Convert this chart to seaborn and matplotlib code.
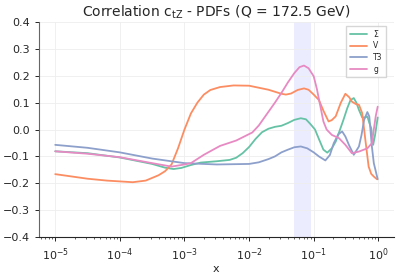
import numpy as np
import pandas as pd
import matplotlib
matplotlib.use('Agg')
import matplotlib.pyplot as plt
import seaborn as sns

# values (log10 x, correlation)
sigma_logx = [-5.0, -4.5, -4.0, -3.5, -3.3, -3.17, -3.05, -2.9, -2.75, -2.5, -2.3, -2.2,
              -2.1, -2.0, -1.9, -1.8, -1.7, -1.6, -1.5, -1.4, -1.3, -1.2, -1.12, -1.05,
              -0.98, -0.92, -0.85, -0.79, -0.72, -0.66, -0.6, -0.54, -0.48, -0.43, -0.38,
              -0.34, -0.3, -0.25, -0.2, -0.17, -0.14, -0.11, -0.08, -0.05, -0.01]
sigma_corr = [-0.081, -0.088, -0.104, -0.128, -0.142, -0.147, -0.143, -0.132, -0.123, -0.118,
              -0.113, -0.105, -0.088, -0.065, -0.035, -0.01, 0.003, 0.01, 0.014, 0.024,
              0.036, 0.042, 0.038, 0.02, 0.0, -0.035, -0.075, -0.086, -0.07, -0.045,
              -0.005, 0.036, 0.08, 0.11, 0.117, 0.1, 0.073, 0.045, 0.045, 0.049, 0.025,
              0.005, -0.057, -0.02, 0.045]

v_logx = [-5.0, -4.5, -4.2, -3.8, -3.6, -3.5, -3.4, -3.3, -3.2, -3.15, -3.1, -3.05, -3.0,
          -2.95, -2.9, -2.8, -2.7, -2.6, -2.45, -2.24, -2.0, -1.7, -1.5, -1.43, -1.35,
          -1.25, -1.15, -1.08, -1.0, -0.92, -0.85, -0.77, -0.72, -0.66, -0.58, -0.51,
          -0.45, -0.41, -0.35, -0.3, -0.25, -0.2, -0.15, -0.11, -0.07, -0.02]
v_corr = [-0.166, -0.183, -0.19, -0.196, -0.19, -0.18, -0.17, -0.155, -0.13, -0.10, -0.07,
          -0.035, 0.0, 0.03, 0.06, 0.1, 0.13, 0.147, 0.158, 0.164, 0.163, 0.148, 0.133,
          0.13, 0.134, 0.147, 0.153, 0.148, 0.13, 0.11, 0.07, 0.03, 0.035, 0.049, 0.1,
          0.133, 0.12, 0.104, 0.095, 0.092, 0.061, -0.04, -0.138, -0.165, -0.175, -0.185]

t3_logx = [-5.0, -4.5, -4.0, -3.5, -3.0, -2.5, -2.0, -1.85, -1.7, -1.6, -1.5, -1.4, -1.3,
           -1.2, -1.1, -1.0, -0.92, -0.82, -0.75, -0.69, -0.62, -0.56, -0.51, -0.45, -0.38,
           -0.3, -0.26, -0.22, -0.17, -0.14, -0.1, -0.07, -0.04, -0.01]
t3_corr = [-0.057, -0.068, -0.085, -0.108, -0.125, -0.13, -0.128, -0.122, -0.11, -0.1,
           -0.085, -0.075, -0.066, -0.063, -0.07, -0.085, -0.1, -0.115, -0.095, -0.051,
           -0.018, -0.007, -0.026, -0.06, -0.094, -0.063, -0.02, 0.036, 0.065, 0.049,
           -0.063, -0.125, -0.155, -0.185]

g_logx = [-5.0, -4.5, -4.0, -3.5, -3.2, -3.0, -2.9, -2.7, -2.45, -2.2, -1.95, -1.85, -1.75,
          -1.6, -1.5, -1.4, -1.3, -1.22, -1.15, -1.08, -1.0, -0.95, -0.9, -0.85, -0.8,
          -0.72, -0.61, -0.51, -0.41, -0.3, -0.17, -0.1, -0.07, -0.04, -0.01]
g_corr = [-0.081, -0.09, -0.103, -0.125, -0.138, -0.13, -0.125, -0.094, -0.061, -0.041,
          -0.011, 0.015, 0.049, 0.1, 0.136, 0.175, 0.21, 0.232, 0.238, 0.228, 0.198, 0.15,
          0.09, 0.03, 0.0, -0.02, -0.032, -0.057, -0.088, -0.082, -0.07, -0.051, 0.0,
          0.05, 0.085]

labels = ['Σ', 'V', 'T3', 'g']
band = (0.05, 0.09)

frames = []
for lab, lx, c in zip(labels, [sigma_logx, v_logx, t3_logx, g_logx],
                      [sigma_corr, v_corr, t3_corr, g_corr]):
    frames.append(pd.DataFrame({'x': 10.0 ** np.array(lx), 'corr': c, 'pdf': lab}))
df = pd.concat(frames, ignore_index=True)

sns.set_style('ticks')
fig = plt.figure(figsize=(3.99, 2.75), dpi=100)
ax = fig.add_axes([0.098, 0.138, 0.889, 0.782])

# shaded x-range
ax.axvspan(band[0], band[1], color='blue', alpha=0.075, lw=0, zorder=0)
sns.lineplot(data=df, x='x', y='corr', hue='pdf', palette='Set2', sort=False,
             estimator=None, lw=1.3, ax=ax)
ax.set_xscale('log')
ax.set_ylim(-0.4, 0.4)
ax.set_yticks(np.arange(-0.4, 0.41, 0.1))
ax.grid(True, color='#eeeeee', lw=0.6)
ax.set_axisbelow(True)
ax.tick_params(labelsize=8, length=3, width=0.7)
ax.tick_params(which='minor', length=1.5, width=0.5)
ax.set_xlabel('x', fontsize=8, labelpad=1)
ax.set_ylabel('')
ax.set_title('Correlation $\\mathregular{c_{tZ}}$ - PDFs (Q = 172.5 GeV)', fontsize=10, pad=4)
sns.despine(ax=ax)
ax.spines['left'].set_color('#666666')
ax.legend(title=None, fontsize=5.5, loc='upper right', handlelength=2.2,
          borderpad=0.5, labelspacing=0.35, frameon=True, fancybox=False,
          edgecolor='#cccccc', bbox_to_anchor=(0.99, 1.0))

fig.savefig('out.png', dpi=100)
